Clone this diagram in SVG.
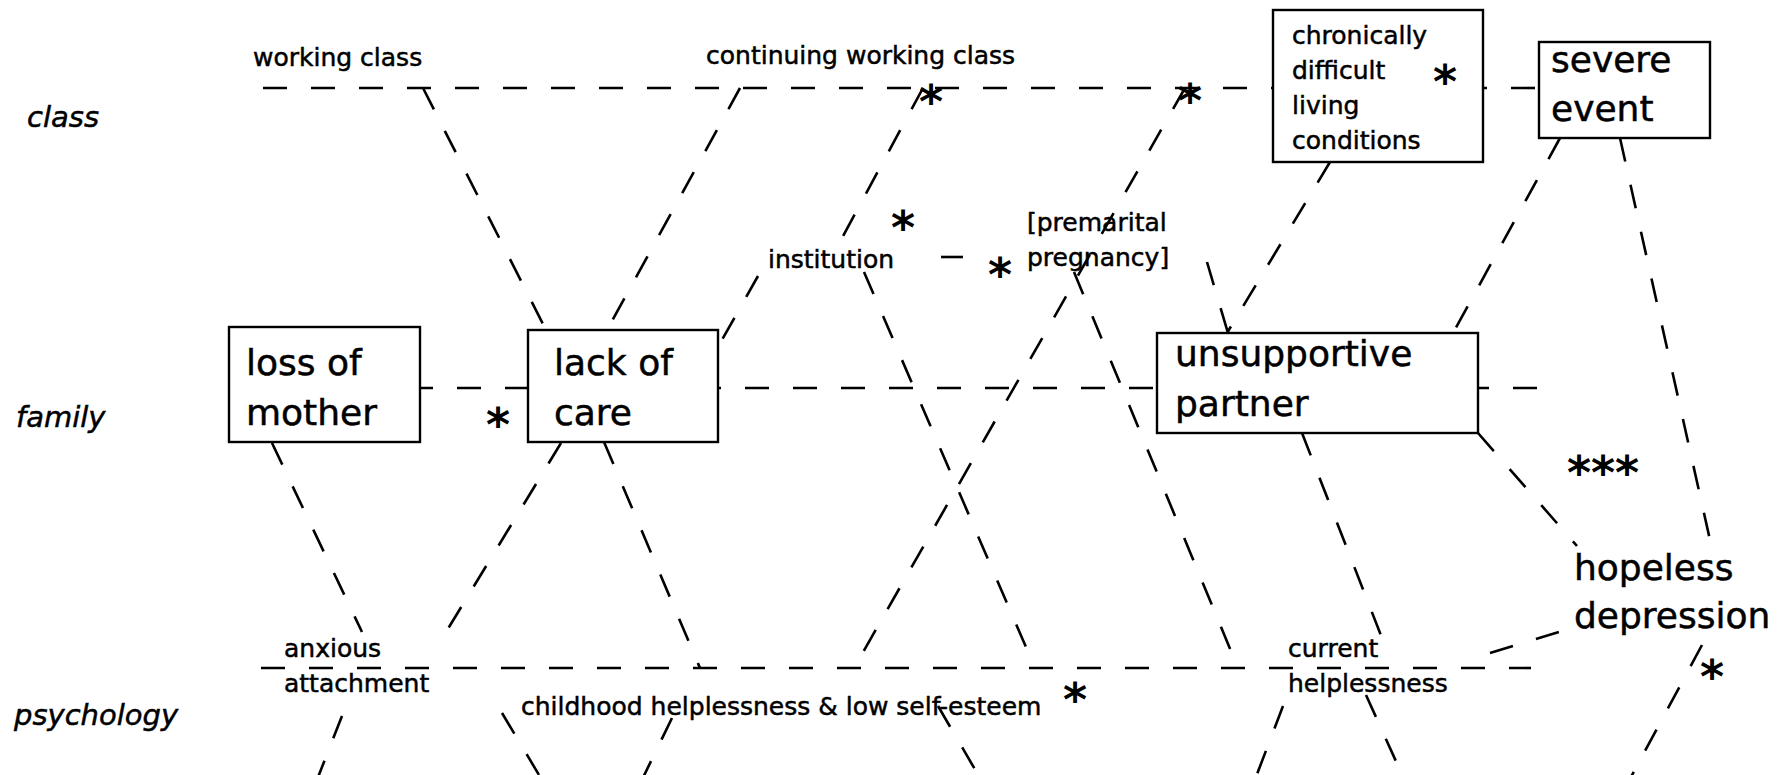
<svg xmlns="http://www.w3.org/2000/svg" width="1785" height="775" viewBox="0 0 1785 775">
<style>
.bg{fill:#fff}
.c line{stroke:#000;stroke-width:2.6;stroke-dasharray:24 24;fill:none}
.c line.solid{stroke-dasharray:none}
.box{fill:#fff;stroke:#000;stroke-width:2.4}
text{font-family:"DejaVu Sans","Liberation Sans",sans-serif;fill:#000;stroke:#000;stroke-width:0.5px}
.row{font-size:29px;font-style:italic}
.lab{font-size:25px}
.big{font-size:36px}
.star{font-size:46px;font-weight:bold;text-anchor:middle;stroke-width:0}
</style>
<rect class="bg" x="0" y="0" width="1785" height="775"/>
<g id="row-labels">
<text class="row" x="27" y="127">class</text>
<text class="row" x="16" y="427">family</text>
<text class="row" x="14" y="725">psychology</text>
</g>
<g id="connectors" class="c">
<line x1="263" y1="88" x2="1539" y2="88"/>
<line x1="420" y1="388" x2="1538" y2="388" stroke-dashoffset="11"/>
<line x1="261" y1="668" x2="1531" y2="668"/>
<line x1="423" y1="88" x2="546" y2="330"/>
<line x1="740" y1="88" x2="607" y2="330"/>
<line x1="923" y1="88" x2="842" y2="238"/>
<line x1="758" y1="276" x2="718" y2="347"/>
<line x1="864" y1="272" x2="1035" y2="668"/>
<line x1="604" y1="442" x2="700" y2="668"/>
<line x1="938" y1="706" x2="987" y2="790"/>
<line x1="272" y1="443" x2="362" y2="632"/>
<line x1="342" y1="716" x2="313" y2="790"/>
<line x1="561" y1="443" x2="443" y2="637"/>
<line x1="502" y1="713" x2="548" y2="790"/>
<line x1="672" y1="718" x2="637" y2="790"/>
<line x1="1185" y1="88" x2="854" y2="668"/>
<line x1="1074" y1="272" x2="1238" y2="668"/>
<line x1="1330" y1="162" x2="1227" y2="333"/>
<line x1="1207" y1="262" x2="1228" y2="333"/>
<line x1="1560" y1="138" x2="1453" y2="333"/>
<line x1="1620" y1="138" x2="1710" y2="540"/>
<line x1="1478" y1="433" x2="1577" y2="546"/>
<line x1="1302" y1="433" x2="1382" y2="638"/>
<line x1="1366" y1="695" x2="1409" y2="790"/>
<line x1="1283" y1="706" x2="1251" y2="790"/>
<line x1="1490" y1="653" x2="1572" y2="628"/>
<line x1="1702" y1="645" x2="1624" y2="790"/>
<line class="solid" x1="941" y1="257" x2="963" y2="257"/>
</g>
<g id="working-class"><text class="lab" x="253" y="66">working class</text></g>
<g id="continuing-working-class"><text class="lab" x="706" y="64">continuing working class</text></g>
<g id="institution"><text class="lab" x="768" y="268">institution</text></g>
<g id="premarital-pregnancy"><text class="lab" x="1027" y="231">[premarital</text><text class="lab" x="1027" y="266">pregnancy]</text></g>
<g id="chronic"><rect class="box" x="1273" y="10" width="210" height="152"/>
<text class="lab" x="1292" y="44">chronically</text><text class="lab" x="1292" y="79">difficult</text><text class="lab" x="1292" y="114">living</text><text class="lab" x="1292" y="149">conditions</text></g>
<g id="severe-event"><rect class="box" x="1539" y="42" width="171" height="96"/>
<text class="big" x="1551" y="72">severe</text><text class="big" x="1551" y="121">event</text></g>
<g id="loss-of-mother"><rect class="box" x="229" y="327" width="191" height="115"/>
<text class="big" x="246" y="375">loss of</text><text class="big" x="246" y="425">mother</text></g>
<g id="lack-of-care"><rect class="box" x="528" y="330" width="190" height="112"/>
<text class="big" x="554" y="375">lack of</text><text class="big" x="554" y="425">care</text></g>
<g id="unsupportive-partner"><rect class="box" x="1157" y="333" width="321" height="100"/>
<text class="big" x="1175" y="366">unsupportive</text><text class="big" x="1175" y="416">partner</text></g>
<g id="anxious-attachment"><text class="lab" x="284" y="657">anxious</text><text class="lab" x="284" y="692">attachment</text></g>
<g id="childhood-helplessness"><text class="lab" x="521" y="715">childhood helplessness &amp; low self-esteem</text></g>
<g id="current-helplessness"><text class="lab" x="1288" y="657">current</text><text class="lab" x="1288" y="692">helplessness</text></g>
<g id="hopeless-depression"><text class="big" x="1574" y="580">hopeless</text><text class="big" x="1574" y="628">depression</text></g>
<g id="stars">
<text class="star" x="931" y="118">*</text>
<text class="star" x="1190" y="117">*</text>
<text class="star" x="1445" y="98">*</text>
<text class="star" x="903" y="244">*</text>
<text class="star" x="1000" y="291">*</text>
<text class="star" x="498" y="441">*</text>
<text class="star" x="1603" y="489">***</text>
<text class="star" x="1075" y="716">*</text>
<text class="star" x="1712" y="693">*</text>
</g>
</svg>
